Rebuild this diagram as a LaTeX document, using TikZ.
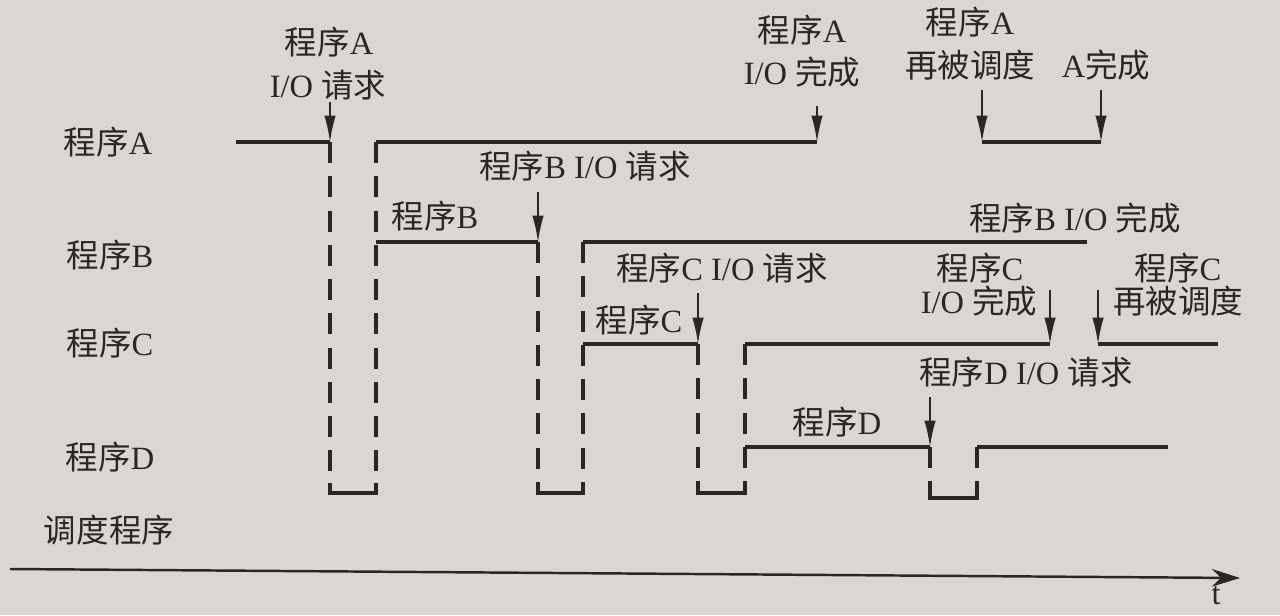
\documentclass[tikz,border=0pt]{standalone}
\usepackage{fontspec}
\setmainfont{Liberation Serif}
\newfontfamily\cjk{Noto Sans CJK SC}
\newcommand\zh[1]{{\cjk #1}}
\usetikzlibrary{arrows.meta}
\definecolor{paper}{HTML}{DAD7D2}
\definecolor{ink}{HTML}{2B2624}
\begin{document}
\begin{tikzpicture}[x=0.02cm,y=-0.02cm,
  wave/.style={line width=1.8pt, draw=ink},
  gapline/.style={wave, dash pattern=on 12pt off 7.5pt},
  evt/.style={line width=1pt, draw=ink, -{Latex[length=15pt,width=6.5pt]}},
  lbl/.style={text=ink, inner sep=0pt, font=\fontsize{18.5}{22}\selectfont},
  axis/.style={line width=1.4pt, draw=ink, -{Stealth[length=16pt,width=10pt]}}]
\fill[paper] (0,0) rectangle (1280,615);
\useasboundingbox (0,0) rectangle (1280,615);
\clip (0,0) rectangle (1280,615);

% row labels
\node[lbl] (la) at (108,142) {\zh{程序}A};
\node[lbl] (lb) at (110,255) {\zh{程序}B};
\node[lbl] (lc) at (110,343) {\zh{程序}C};
\node[lbl] (ld) at (110,457) {\zh{程序}D};
\node[lbl] (ls) at (109,530) {\zh{调度程序}};

% event labels
\node[lbl] (ea1) at (329,42) {\zh{程序}A};
\node[lbl] (ea2) at (328,85) {I/O \zh{请求}};
\node[lbl] (eb1) at (802,30) {\zh{程序}A};
\node[lbl] (eb2) at (802,72) {I/O \zh{完成}};
\node[lbl] (ec1) at (970,22) {\zh{程序}A};
\node[lbl] (ec2) at (970,65) {\zh{再被调度}};
\node[lbl] (ed) at (1106,65) {A\zh{完成}};
\node[lbl] (ee) at (585,166) {\zh{程序}B I/O \zh{请求}};
\node[lbl] (ef) at (435,216) {\zh{程序}B};
\node[lbl] (eg) at (1075,218) {\zh{程序}B I/O \zh{完成}};
\node[lbl] (eh) at (722,268) {\zh{程序}C I/O \zh{请求}};
\node[lbl] (ei) at (639,320) {\zh{程序}C};
\node[lbl] (ej1) at (980,268) {\zh{程序}C};
\node[lbl] (ej2) at (979,301) {I/O \zh{完成}};
\node[lbl] (ek1) at (1178,268) {\zh{程序}C};
\node[lbl] (ek2) at (1178,301) {\zh{再被调度}};
\node[lbl] (el) at (1026,372) {\zh{程序}D I/O \zh{请求}};
\node[lbl] (em) at (837,422) {\zh{程序}D};
\node[lbl, anchor=north] (tl) at (1216,586) {t};

% program A
\coordinate (a0) at (236,142);
\coordinate (a1) at (330,142);
\coordinate (a2) at (376,142);
\coordinate (a3) at (817,142);
\coordinate (a4) at (982,142);
\coordinate (a5) at (1101,142);
% program B
\coordinate (b0) at (376,242);
\coordinate (b1) at (538,242);
\coordinate (b2) at (583,242);
\coordinate (b3) at (1087,242);
% program C
\coordinate (c0) at (583,344);
\coordinate (c1) at (698,344);
\coordinate (c2) at (745,344);
\coordinate (c3) at (1050,344);
\coordinate (c4) at (1098,344);
\coordinate (c5) at (1218,344);
% program D
\coordinate (d0) at (745,447);
\coordinate (d1) at (930,447);
\coordinate (d2) at (977,447);
\coordinate (d3) at (1168,447);

% scheduler slots (bracket corners)
\coordinate (s1l) at (330,483); \coordinate (s1bl) at (330,493);
\coordinate (s1r) at (376,483); \coordinate (s1br) at (376,493);
\coordinate (s2l) at (538,483); \coordinate (s2bl) at (538,493);
\coordinate (s2r) at (583,483); \coordinate (s2br) at (583,493);
\coordinate (s3l) at (698,483); \coordinate (s3bl) at (698,493);
\coordinate (s3r) at (745,483); \coordinate (s3br) at (745,493);
\coordinate (s4l) at (930,486); \coordinate (s4bl) at (930,498);
\coordinate (s4r) at (977,486); \coordinate (s4br) at (977,498);

% solid run lines
\draw[wave] (a0) -- (a1);
\draw[wave] (a2) -- (a3);
\draw[wave] (a4) -- (a5);
\draw[wave] (b0) -- (b1);
\draw[wave] (b2) -- (b3);
\draw[wave] (c0) -- (c1);
\draw[wave] (c2) -- (c3);
\draw[wave] (c4) -- (c5);
\draw[wave] (d0) -- (d1);
\draw[wave] (d2) -- (d3);

% switches to the scheduler
\draw[gapline] (a1) -- (s1l);
\draw[gapline] (a2) -- (s1r);
\draw[wave] (s1l) -- (s1bl) -- (s1br) -- (s1r);
\draw[gapline] (b1) -- (s2l);
\draw[gapline] (b2) -- (s2r);
\draw[wave] (s2l) -- (s2bl) -- (s2br) -- (s2r);
\draw[gapline] (c1) -- (s3l);
\draw[gapline] (c2) -- (s3r);
\draw[wave] (s3l) -- (s3bl) -- (s3br) -- (s3r);
\draw[gapline] (d1) -- (s4l);
\draw[gapline] (d2) -- (s4r);
\draw[wave] (s4l) -- (s4bl) -- (s4br) -- (s4r);

% event arrows
\coordinate (t1) at (330,102);
\coordinate (t2) at (817,106);
\coordinate (t3) at (982,90);
\coordinate (t4) at (1101,90);
\coordinate (t5) at (538,192);
\coordinate (t6) at (698,293);
\coordinate (t7) at (1050,290);
\coordinate (t8) at (1098,290);
\coordinate (t9) at (930,397);
\draw[evt] (t1) -- (a1);
\draw[evt] (t2) -- (a3);
\draw[evt] (t3) -- (a4);
\draw[evt] (t4) -- (a5);
\draw[evt] (t5) -- (b1);
\draw[evt] (t6) -- (c1);
\draw[evt] (t7) -- (c3);
\draw[evt] (t8) -- (c4);
\draw[evt] (t9) -- (d1);

% time axis
\coordinate (x0) at (10,569);
\coordinate (x1) at (1240,578);
\draw[axis] (x0) -- (x1);
\end{tikzpicture}
\end{document}
